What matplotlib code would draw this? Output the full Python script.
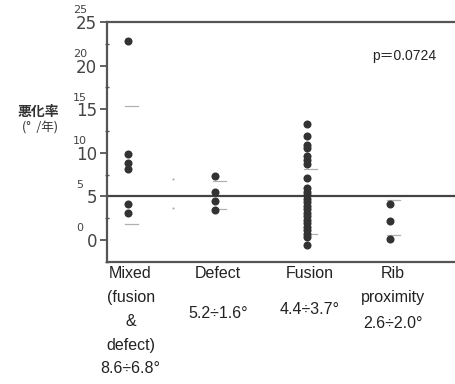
import matplotlib.pyplot as plt
from matplotlib.ticker import MultipleLocator

plt.rcParams['font.family'] = ['Liberation Sans', 'Noto Sans CJK JP', 'DejaVu Sans']

OUTPUT_FILE = "out.png"

# data
categories = ["Mixed", "Defect", "Fusion", "Rib"]
mixed = [22.8, 9.9, 8.8, 8.1, 4.1, 3.1]
defect = [7.3, 5.5, 4.5, 3.4]
fusion = [13.3, 11.9, 10.9, 10.5, 9.6, 9.2, 8.7, 7.1, 6.0, 5.5, 5.1, 4.7,
          4.3, 3.9, 3.5, 3.1, 2.7, 2.3, 1.9, 1.5, 1.1, 0.7, 0.3, -0.6]
rib = [4.1, 2.2, 0.15]
means = [8.6, 5.2, 4.4, 2.6]
sds = [6.8, 1.6, 3.7, 2.0]
stray_y = [7.0, 3.7]
p_text = "p\uff1d0.0724"
ytick_vals = [0, 5, 10, 15, 20, 25]
names = ["Mixed\n(fusion\n&\ndefect)", "Defect", "Fusion", "Rib\nproximity"]
stats = ["8.6÷6.8°", "5.2÷1.6°", "4.4÷3.7°", "2.6÷2.0°"]

# layout
xpos = [0, 1, 2.05, 3]
stat_y = [-14.7, -8.4, -8.0, -9.6]

W, H = 455, 384
fig = plt.figure(figsize=(W / 100, H / 100), dpi=100)
ax = fig.add_axes([107 / W, 1 - 261.7 / H, 358 / W, 239.7 / H])

dark = "#333333"
groups = [mixed, defect, fusion, rib]
for x, vals, m, sd in zip(xpos, groups, means, sds):
    ax.plot([x] * len(vals), vals, "o", color=dark, markersize=5.8,
            markeredgewidth=0, zorder=3)
    # faint mean +/- SD dashes
    for yy in (m + sd, m - sd):
        ax.plot([x - 0.03, x + 0.12], [yy, yy], color="#b0b0b0", lw=0.9,
                zorder=2)

ax.plot([0.52] * len(stray_y), stray_y, "o", color="#aaaaaa", markersize=1.5,
        markeredgewidth=0)

ax.axhline(5, color="#444444", lw=1.6, zorder=1)

ax.set_xlim(-0.24, 3.86)
ax.set_ylim(-2.5, 25)

ax.spines["right"].set_visible(False)
for s in ax.spines.values():
    s.set_color("#555555")
    s.set_linewidth(1.6)

ax.set_yticks(ytick_vals)
ax.set_yticklabels([str(v) for v in ytick_vals], fontsize=12,
                   family=["DejaVu Sans"], color="#444444")
ax.yaxis.set_minor_locator(MultipleLocator(2.5))
ax.tick_params(axis="y", which="major", length=5, width=1.3, color="#555555", pad=2)
ax.tick_params(axis="y", which="minor", length=3, width=1.0, direction="inout",
               color="#555555")
ax.set_xticks([])

# small duplicated tick labels seen in the reference
for v in ytick_vals:
    ax.text(-0.55, v + 0.75, str(v), fontsize=8, color="#444444",
            ha="center", va="bottom", family=["DejaVu Sans"])

for x, nm, st, sy in zip(xpos, names, stats, stat_y):
    ax.text(x + 0.03, -3.0, nm, ha="center", va="top", fontsize=11.5,
            color="#222222", linespacing=1.75, clip_on=False)
    ax.text(x + 0.03, sy, st, ha="center", va="center", fontsize=11.5,
            color="#222222", clip_on=False)

ax.text(2.8, 21.1, p_text, fontsize=10, color="#222222", ha="left",
        va="center")

fig.text(38 / W, 1 - 112 / H, "悪化率", fontsize=10, ha="center", va="center",
         family=["Noto Sans CJK JP", "DejaVu Sans"], color="#333333",
         weight="bold")
fig.text(40 / W, 1 - 128 / H, "(°  /年)", fontsize=9, ha="center",
         va="center", family=["Noto Sans CJK JP", "DejaVu Sans"],
         color="#333333")

fig.savefig(OUTPUT_FILE, dpi=100)
